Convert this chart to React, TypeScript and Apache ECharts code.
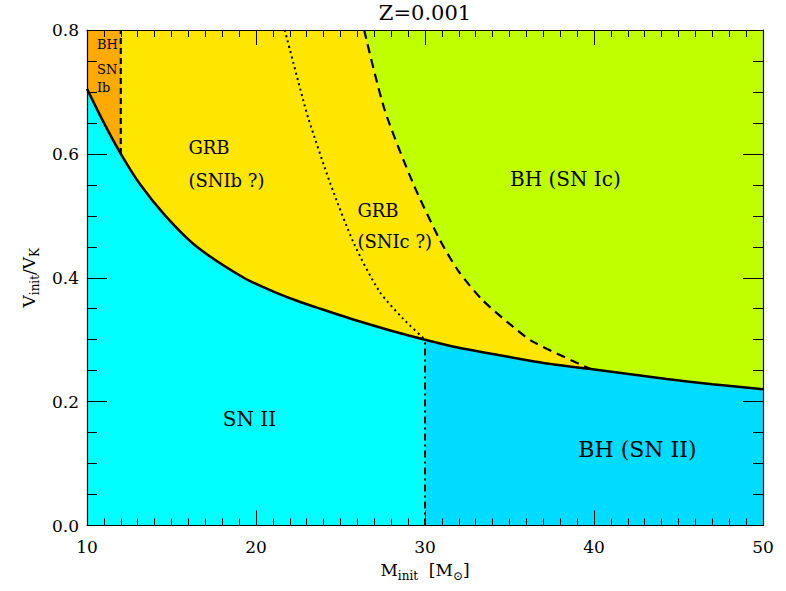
import { useEffect, useRef } from "react";
import * as echarts from "echarts";

// ---- data ----
const titleText = "Z=0.001";
const xRange = [10, 50];
const yRange = [0, 0.8];

// solid boundary: SN II (below) vs. rotating regimes (above)
const solidCurve: [number, number][] = [
  [10, 0.705], [11, 0.65], [12, 0.6], [13.16, 0.55], [14.64, 0.5], [16.5, 0.45],
  [19.27, 0.4], [21, 0.378], [22.5, 0.362], [23.8, 0.35], [26, 0.3305],
  [28, 0.3145], [30, 0.3], [32, 0.287], [34.4, 0.275], [37, 0.2625],
  [39.8, 0.2525], [44.3, 0.2365], [47, 0.228], [50, 0.22],
];
// dotted: GRB (SNIb) / GRB (SNIc) separation
const dottedCurve: [number, number][] = [
  [21.7, 0.8], [22.8, 0.686], [23.1, 0.657], [24.4, 0.552], [25.8, 0.455],
  [27.3, 0.378], [28.7, 0.334], [30.0, 0.3],
];
// dashed: GRB / BH (SN Ic) separation
const dashedCurve: [number, number][] = [
  [26.4, 0.8], [27.6, 0.672], [29.3, 0.552], [30.9, 0.46], [32.0, 0.41],
  [33.4, 0.364], [35.2, 0.321], [36.4, 0.2965], [39.8, 0.2525],
];
const ibBoundary: [number, number][] = [[12, 0.6], [12, 0.8]];
const bhMassLimit: [number, number][] = [[30, 0], [30, 0.3]];

const regionLabels = [
  { text: "BH", x: 10.59, y: 0.777, size: 13 },
  { text: "SN", x: 10.59, y: 0.737, size: 13 },
  { text: "Ib", x: 10.59, y: 0.707, size: 13 },
  { text: "GRB", x: 16.0, y: 0.61, size: 18 },
  { text: "(SNIb ?)", x: 16.0, y: 0.557, size: 18 },
  { text: "GRB", x: 26.0, y: 0.509, size: 18 },
  { text: "(SNIc ?)", x: 26.0, y: 0.459, size: 18 },
  { text: "BH (SN Ic)", x: 35.03, y: 0.56, size: 20 },
  { text: "SN II", x: 18.03, y: 0.172, size: 20 },
  { text: "BH (SN II)", x: 39.07, y: 0.122, size: 22 },
];

const colors = {
  lime: "#c0ff00",
  yellow: "#ffe600",
  orange: "#ffaa00",
  cyan: "#00ffff",
  deep: "#00dcff",
};

const FONT = "DejaVu Serif";

export default function App() {
  const ref = useRef<HTMLDivElement>(null);

  useEffect(() => {
    if (!ref.current) return;
    const chart = echarts.init(ref.current, undefined, { renderer: "svg" });

    const xMin = xRange[0], xMax = xRange[1], yMin = yRange[0], yMax = yRange[1];
    const xBreak = bhMassLimit[0][0];
    const xIb = ibBoundary[0][0];
    const dashEnd = dashedCurve[dashedCurve.length - 1][0];

    const solidLE = (a: number) => solidCurve.filter((p) => p[0] <= a);
    const solidGE = (a: number) => solidCurve.filter((p) => p[0] >= a);
    const solidBetween = (a: number, b: number) => solidCurve.filter((p) => p[0] >= a && p[0] <= b);

    const polygons: { pts: [number, number][]; color: string }[] = [
      { pts: [[xMin, yMin], [xMax, yMin], [xMax, yMax], [xMin, yMax]], color: colors.lime },
      {
        pts: [[xIb, yMax], ...dashedCurve, ...solidBetween(xIb, dashEnd).reverse()],
        color: colors.yellow,
      },
      { pts: [[xMin, yMax], [xIb, yMax], ...solidLE(xIb).reverse()], color: colors.orange },
      { pts: [[xMin, yMin], ...solidLE(xBreak), [xBreak, yMin]], color: colors.cyan },
      { pts: [[xBreak, yMin], ...solidGE(xBreak), [xMax, yMin]], color: colors.deep },
    ];

    const axisCommon = {
      type: "value" as const,
      z: 10,
      splitLine: { show: false },
      axisLine: { show: true, onZero: false, lineStyle: { color: "#000", width: 1.2 } },
    };

    const sub = { fontSize: 12, lineHeight: 12, verticalAlign: "bottom", fontFamily: FONT, color: "#000" };
    const nrm = { fontSize: 17, lineHeight: 24, verticalAlign: "middle", fontFamily: FONT, color: "#000" };

    const lineCommon = {
      type: "line" as const,
      symbol: "none",
      smooth: 0.25,
      z: 3,
    };

    chart.setOption({
      animation: false,
      backgroundColor: "#fff",
      grid: { left: 87, right: 23, top: 30, bottom: 65.5 },
      graphic: [
        {
          type: "text",
          x: 425,
          y: 2,
          style: { text: titleText, fontSize: 21, fontFamily: FONT, fill: "#000", align: "center", verticalAlign: "top" },
        },
      ],
      xAxis: [
        {
          ...axisCommon,
          position: "bottom",
          min: xMin,
          max: xMax,
          interval: 10,
          axisTick: { show: true, inside: true, length: 15, lineStyle: { color: "#000" } },
          minorTick: { show: true, splitNumber: 10, length: 7, lineStyle: { color: "#000" } },
          axisLabel: { margin: 13, fontSize: 17, fontFamily: FONT, color: "#000" },
          name: "{n|M}{s|init}{n|  [M}{s|⊙}{n|]}",
          nameLocation: "middle",
          nameGap: 32,
          nameTextStyle: { rich: { n: nrm, s: sub } },
        },
        {
          ...axisCommon,
          position: "top",
          min: xMin,
          max: xMax,
          interval: 10,
          axisTick: { show: true, inside: true, length: 15, lineStyle: { color: "#000" } },
          minorTick: { show: true, splitNumber: 10, length: 7, lineStyle: { color: "#000" } },
          axisLabel: { show: false },
        },
      ],
      yAxis: [
        {
          ...axisCommon,
          position: "left",
          min: yMin,
          max: yMax,
          interval: 0.2,
          axisTick: { show: true, inside: true, length: 20, lineStyle: { color: "#000" } },
          minorTick: { show: true, splitNumber: 4, length: 10, lineStyle: { color: "#000" } },
          axisLabel: {
            margin: 8,
            fontSize: 17,
            fontFamily: FONT,
            color: "#000",
            formatter: (v: number) => v.toFixed(1),
          },
          name: "{n|V}{s|init}{n|/V}{s|K}",
          nameLocation: "middle",
          nameRotate: 90,
          nameGap: 45,
          nameTextStyle: { rich: { n: nrm, s: sub } },
        },
        {
          ...axisCommon,
          position: "right",
          min: yMin,
          max: yMax,
          interval: 0.2,
          axisTick: { show: true, inside: true, length: 20, lineStyle: { color: "#000" } },
          minorTick: { show: true, splitNumber: 4, length: 10, lineStyle: { color: "#000" } },
          axisLabel: { show: false },
        },
      ],
      series: [
        {
          type: "custom",
          z: 1,
          silent: true,
          data: polygons.map((_, i) => [i]),
          encode: { x: -1, y: -1 },
          renderItem: (params: any, api: any) => {
            const poly = polygons[params.dataIndex];
            return {
              type: "polygon",
              shape: { points: poly.pts.map((p) => api.coord(p)) },
              style: { fill: poly.color, stroke: "none" },
            };
          },
        },
        {
          ...lineCommon,
          data: solidCurve,
          z: 4,
          lineStyle: { color: "#000", width: 2.5 },
        },
        {
          ...lineCommon,
          data: dottedCurve,
          lineStyle: { color: "#000", width: 2, type: [2, 3.5] },
        },
        {
          ...lineCommon,
          data: dashedCurve,
          lineStyle: { color: "#000", width: 2.2, type: [9, 6] },
        },
        {
          type: "line",
          data: ibBoundary,
          symbol: "none",
          z: 3,
          lineStyle: { color: "#000", width: 2.2, type: [6, 4] },
        },
        {
          type: "line",
          data: bhMassLimit,
          symbol: "none",
          z: 3,
          lineStyle: { color: "#000", width: 2, type: [7, 4, 2, 4] },
        },
        {
          type: "custom",
          z: 6,
          silent: true,
          clip: false,
          data: regionLabels.map((l) => [l.x, l.y]),
          renderItem: (params: any, api: any) => {
            const l = regionLabels[params.dataIndex];
            const pt = api.coord([l.x, l.y]);
            return {
              type: "text",
              x: pt[0],
              y: pt[1],
              style: {
                text: l.text,
                fontSize: l.size,
                fontFamily: FONT,
                fill: "#000",
                align: "left",
                verticalAlign: "middle",
              },
            };
          },
        },
      ],
    });

    return () => chart.dispose();
  }, []);

  return (
    <div
      ref={ref}
      style={{ position: "absolute", left: 0, top: 0, width: 786, height: 591 }}
    />
  );
}
